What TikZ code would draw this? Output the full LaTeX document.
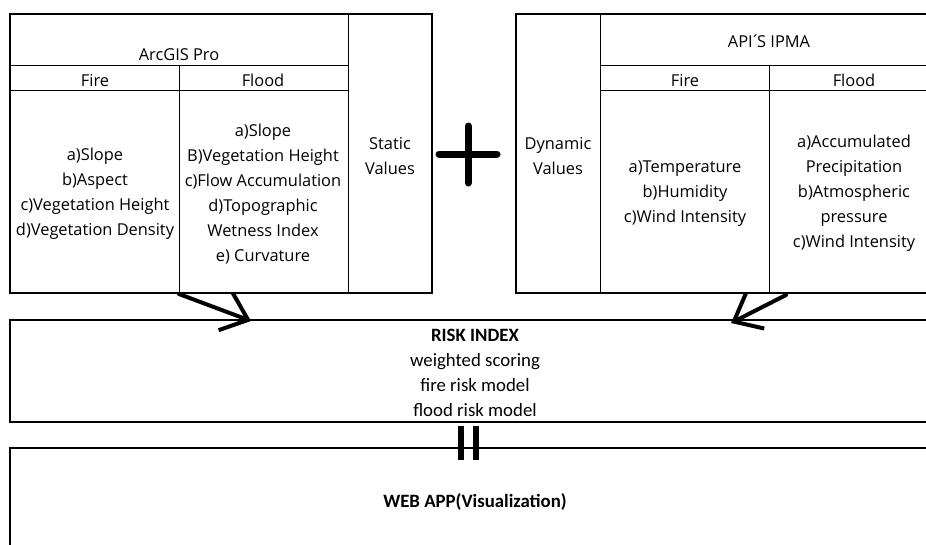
\documentclass[tikz,border=0pt]{standalone}
\usepackage{fontspec}
\setmainfont{Carlito}
\newfontfamily\topfont{Open Sans}
\usetikzlibrary{arrows.meta}
\begin{document}
\begin{tikzpicture}[x=1pt,y=-1pt,
  txt/.style={align=center, font=\topfont\fontsize{16.4}{25}\selectfont, inner sep=0pt, text=black, yshift=-1.5pt},
  btxt/.style={align=center, font=\fontsize{18.8}{25}\selectfont, inner sep=0pt, text=black},
  outer/.style={draw, line width=1.8pt},
  inner/.style={draw, line width=0.9pt},
  bigarrow/.style={line width=4pt, line cap=round, -{Straight Barb[length=24pt,width=40pt,line width=4pt]}},
  plusbar/.style={line width=7pt, line cap=round},
  eqbar/.style={line width=6pt},
]
\useasboundingbox (0,0) rectangle (926,544);
\clip (0,0) rectangle (926,544);
% left table
\draw[outer] (10,14) rectangle (432,293);
\draw[inner] (348,14) -- (348,293);
\draw[inner] (10,65) -- (348,65);
\draw[inner] (10,90) -- (348,90);
\draw[inner] (179,65) -- (179,293);
% right table
\draw[outer] (516,14) rectangle (945,293);
\draw[inner] (600,14) -- (600,293);
\draw[inner] (600,65) -- (945,65);
\draw[inner] (600,90) -- (945,90);
\draw[inner] (769,65) -- (769,293);
% lower boxes
\draw[outer] (10,320) rectangle (945,422);
\draw[outer] (10,448) rectangle (945,570);
% texts
\node[txt] (arc) at (179,53) {ArcGIS Pro};
\node[txt] (fireA) at (95,79) {Fire};
\node[txt] (floodA) at (263,79) {Flood};
\node[txt] (fireItemsA) at (95,192.5) {a)Slope\\b)Aspect\\c)Vegetation Height\\d)Vegetation Density};
\node[txt] (floodItemsA) at (263,192.5) {a)Slope\\B)Vegetation Height\\c)Flow Accumulation\\d)Topographic\\Wetness Index\\e) Curvature};
\node[txt] (static) at (390,154.5) {Static\\Values};
\node[txt] (dyn) at (558,154.5) {Dynamic\\Values};
\node[txt] (api) at (769,40) {API\kern-2.5pt´\kern-2.5pt S IPMA};
\node[txt] (fireB) at (685,79) {Fire};
\node[txt] (floodB) at (854,79) {Flood};
\node[txt] (fireItemsB) at (685,192) {a)Temperature\\b)Humidity\\c)Wind Intensity};
\node[txt] (floodItemsB) at (854,192) {a)Accumulated\\Precipitation\\b)Atmospheric\\pressure\\c)Wind Intensity};
\node[btxt] (risk) at (475,372.5) {\textbf{RISK INDEX}\\weighted scoring\\fire risk model\\flood risk model};
\node[btxt] (web) at (475,502) {\textbf{WEB APP(Visualization)}};
% plus
\coordinate (plusL) at (439,154);
\coordinate (plusR) at (497,154);
\coordinate (plusT) at (468,126);
\coordinate (plusB) at (468,183);
\draw[plusbar] (plusL) -- (plusR);
\draw[plusbar] (plusT) -- (plusB);
% arrows
\coordinate (a1s) at (179,294);
\coordinate (a1e) at (251,321);
\coordinate (a2s) at (786,295);
\coordinate (a2e) at (731,323);
\draw[bigarrow] (a1s) -- (a1e);
\draw[bigarrow] (a2s) -- (a2e);
% equals bars
\coordinate (e1t) at (461,426);
\coordinate (e1b) at (461,460);
\coordinate (e2t) at (476,426);
\coordinate (e2b) at (476,460);
\draw[eqbar] (e1t) -- (e1b);
\draw[eqbar] (e2t) -- (e2b);
\end{tikzpicture}
\end{document}
